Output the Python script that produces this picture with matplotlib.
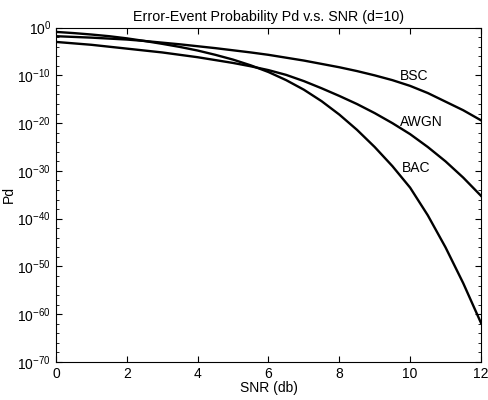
import numpy as np
import matplotlib
matplotlib.use('Agg')
import matplotlib.pyplot as plt
from matplotlib.ticker import FixedLocator, LogFormatterMathtext, NullFormatter

plt.rcParams['font.family'] = ['Liberation Sans', 'DejaVu Sans']
plt.rcParams['font.size'] = 10

# SNR in dB, and log10 of Pd
snr = [0, 0.5, 1, 1.5, 2, 2.5, 3, 3.5, 4, 4.5, 5, 5.5, 6,
       6.5, 7, 7.5, 8, 8.5, 9, 9.5, 10, 10.5, 11, 11.5, 12]
log_bsc = [-1.8, -1.95, -2.1, -2.3, -2.5, -2.8, -3.15, -3.5, -3.9, -4.3, -4.75, -5.2, -5.7,
           -6.3, -6.9, -7.6, -8.3, -9.1, -10.0, -11.0, -12.2, -13.7, -15.5, -17.3, -19.4]
log_awgn = [-3.0, -3.3, -3.6, -4.0, -4.4, -4.8, -5.2, -5.7, -6.2, -6.8, -7.4, -8.1, -8.9,
            -9.9, -11.2, -12.7, -14.3, -16.0, -17.9, -20.0, -22.3, -25.0, -28.0, -31.4, -35.2]
log_bac = [-0.9, -1.15, -1.45, -1.8, -2.25, -2.8, -3.4, -4.05, -4.8, -5.7, -6.7, -7.9, -9.3,
           -11.0, -13.0, -15.4, -18.2, -21.4, -25.0, -29.0, -33.5, -39.3, -46.0, -53.5, -61.8]

labels = ['BSC', 'AWGN', 'BAC']
label_x = [9.72, 9.72, 9.78]
label_logy = [-10.2, -19.8, -29.4]

fig = plt.figure(figsize=(4.89, 4.0), dpi=100)
ax = fig.add_axes([0.1145, 0.095, 0.869, 0.836])

for ys in (log_bsc, log_awgn, log_bac):
    ax.semilogy(snr, 10.0 ** np.array(ys), color='black', lw=1.7)

for name, lx, ly in zip(labels, label_x, label_logy):
    ax.text(lx, 10.0 ** ly, name, ha='left', va='center', fontsize=10)

ax.set_xlim(0, 12)
ax.set_ylim(1e-70, 1e0)
ax.set_xticks([0, 2, 4, 6, 8, 10, 12])
ax.yaxis.set_major_locator(FixedLocator([10.0 ** -k for k in range(0, 71, 10)]))
ax.yaxis.set_minor_locator(FixedLocator([10.0 ** -k for k in range(0, 71, 2) if k % 10]))
ax.yaxis.set_major_formatter(LogFormatterMathtext())
ax.yaxis.set_minor_formatter(NullFormatter())
ax.tick_params(which='both', direction='in', top=True, right=True)
ax.tick_params(which='major', length=4, width=0.8, labelsize=10)
ax.tick_params(which='minor', length=2, width=0.6)

ax.set_xlabel('SNR (db)', labelpad=0)
ax.set_ylabel('Pd', labelpad=1)
ax.set_title('Error-Event Probability Pd v.s. SNR (d=10)', fontsize=10.3, pad=5)

fig.savefig('out.png', dpi=100)
